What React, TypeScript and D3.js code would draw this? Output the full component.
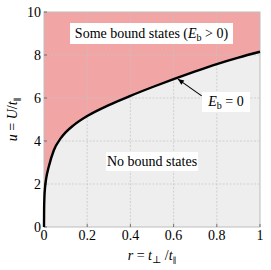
import React from "react";
import * as d3 from "d3";

const rValues = [0, 0.0005, 0.002, 0.005, 0.01, 0.022, 0.046, 0.077, 0.1, 0.138, 0.2, 0.3, 0.4, 0.5, 0.6, 0.7, 0.8, 0.9, 1];
const uValues = [0, 0.8, 1.4, 1.85, 2.25, 2.8, 3.58, 4.12, 4.4, 4.74, 5.16, 5.67, 6.1, 6.5, 6.88, 7.24, 7.58, 7.88, 8.15];
const xTicks = [0, 0.2, 0.4, 0.6, 0.8, 1];
const yTicks = [0, 2, 4, 6, 8, 10];
const xTickLabels = ["0", "0.2", "0.4", "0.6", "0.8", "1"];
const yTickLabels = ["0", "2", "4", "6", "8", "10"];

const W = 271, H = 270;
const FONT = "Times New Roman, Liberation Serif, Tinos, Times, Noto Serif, DejaVu Serif, serif";

export default function App() {
  const x = d3.scaleLinear().domain([0, 1]).range([44, 260]);
  const y = d3.scaleLinear().domain([0, 10]).range([227, 12]);
  const pts: [number, number][] = rValues.map((r, i) => [r, uValues[i]]);
  const line = d3.line<[number, number]>().x(d => x(d[0])).y(d => y(d[1])).curve(d3.curveMonotoneX);
  const areaBelow = d3.area<[number, number]>().x(d => x(d[0])).y0(y(0)).y1(d => y(d[1])).curve(d3.curveMonotoneX);
  const [x0, x1] = x.range();
  const [yb, yt] = y.range();

  const ar = 0.62;
  const au = 6.95;
  const ax = x(ar), ay = y(au) + 1.5;
  const bx = x(0.73), by = y(6.1);
  const ang = Math.atan2(ay - by, ax - bx);
  const hl = 6, hw = 2.6;
  const hx1 = ax - hl * Math.cos(ang) + hw * Math.sin(ang);
  const hy1 = ay - hl * Math.sin(ang) - hw * Math.cos(ang);
  const hx2 = ax - hl * Math.cos(ang) - hw * Math.sin(ang);
  const hy2 = ay - hl * Math.sin(ang) + hw * Math.cos(ang);

  const tstyle = { fontFamily: FONT };

  return (
    <svg width={W} height={H} style={{ position: "absolute", left: 0, top: 0, fontFamily: FONT }}>
      <rect x={x0} y={yt} width={x1 - x0} height={yb - yt} fill="#f2a5a5" />
      <path d={areaBelow(pts) || ""} fill="#eeeeee" />
      {xTicks.slice(1, -1).map(t => (
        <line key={"gx" + t} x1={x(t)} x2={x(t)} y1={yt} y2={yb} stroke="#c4c4c4" strokeWidth={0.7} strokeDasharray="2,1.5" />
      ))}
      {yTicks.slice(1, -1).map(t => (
        <line key={"gy" + t} x1={x0} x2={x1} y1={y(t)} y2={y(t)} stroke="#c4c4c4" strokeWidth={0.7} strokeDasharray="2,1.5" />
      ))}
      <rect x={x0} y={yt} width={x1 - x0} height={yb - yt} fill="none" stroke="#bdbdbd" strokeWidth={1} />
      {xTicks.map(t => (
        <line key={"tx" + t} x1={x(t)} x2={x(t)} y1={yb} y2={yb - 3} stroke="#555" strokeWidth={0.8} />
      ))}
      {yTicks.map(t => (
        <line key={"ty" + t} x1={x0} x2={x0 + 3} y1={y(t)} y2={y(t)} stroke="#555" strokeWidth={0.8} />
      ))}
      <path d={line(pts) || ""} fill="none" stroke="#000" strokeWidth={2.4} />
      <line x1={bx} y1={by} x2={ax} y2={ay} stroke="#000" strokeWidth={1.1} />
      <polygon points={`${ax},${ay} ${hx1},${hy1} ${hx2},${hy2}`} fill="#000" />

      <rect x={70} y={23} width={163} height={21} fill="#fff" />
      <text x={151.5} y={38} fontSize={14} textAnchor="middle" fill="#000" style={tstyle}>
        Some bound states (<tspan fontStyle="italic">E</tspan><tspan fontSize={10} dy={3}>b</tspan><tspan dy={-3}> &gt; 0)</tspan>
      </text>
      <rect x={202} y={92} width={48} height={20} fill="#fff" />
      <text x={226} y={106} fontSize={14} textAnchor="middle" fill="#000" style={tstyle}>
        <tspan fontStyle="italic">E</tspan><tspan fontSize={10} dy={3}>b</tspan><tspan dy={-3}> = 0</tspan>
      </text>
      <rect x={106} y={152} width={92} height={19} fill="#fff" />
      <text x={152} y={166} fontSize={14} textAnchor="middle" fill="#000" style={tstyle}>No bound states</text>

      {xTicks.map((t, i) => (
        <text key={"lx" + t} x={x(t)} y={yb + 13} fontSize={14} textAnchor="middle" fill="#000" style={tstyle}>{xTickLabels[i]}</text>
      ))}
      {yTicks.map((t, i) => (
        <text key={"ly" + t} x={x0 - 3} y={y(t) + 4.5} fontSize={14} textAnchor="end" fill="#000" style={tstyle}>{yTickLabels[i]}</text>
      ))}
      <text x={152} y={260} fontSize={14} textAnchor="middle" fill="#000" style={tstyle}>
        <tspan fontStyle="italic">r</tspan><tspan> = </tspan><tspan fontStyle="italic">t</tspan><tspan fontSize={10} dy={3}>⊥</tspan><tspan dy={-3}> /</tspan><tspan fontStyle="italic">t</tspan><tspan fontSize={8} dy={3}>∥</tspan>
      </text>
      <text transform={`translate(17,${(yt + yb) / 2}) rotate(-90)`} fontSize={14} textAnchor="middle" fill="#000" style={tstyle}>
        <tspan fontStyle="italic">u</tspan><tspan> = </tspan><tspan fontStyle="italic">U</tspan><tspan>/</tspan><tspan fontStyle="italic">t</tspan><tspan fontSize={8} dy={3}>∥</tspan>
      </text>
    </svg>
  );
}
